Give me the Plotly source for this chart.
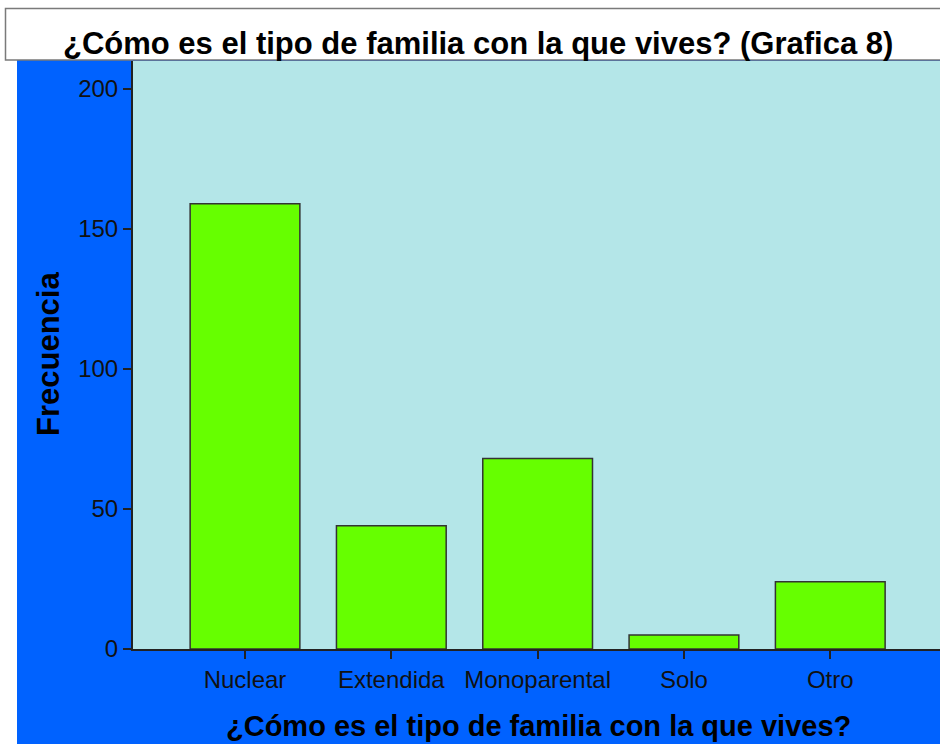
import plotly.graph_objects as go

# Datos
tipos_familia = ["Nuclear", "Extendida", "Monoparental", "Solo", "Otro"]
frecuencias = [159, 44, 68, 5, 24]
y_ticks = [0, 50, 100, 150, 200]

_AZUL = "#0062FF"
_FONDO = "#B4E6E8"
_BARRA = "#66FF00"
_FUENTE = "Liberation Sans, Arial, sans-serif"

W, H = 940, 744
L, R, T, B = 133, 0, 61, 95
pw, ph = W - L - R, H - T - B


def px_x(sx):
    return (sx - L) / pw


def px_y(sy):
    return (H - B - sy) / ph


fig = go.Figure(
    go.Bar(
        x=tipos_familia,
        y=frecuencias,
        marker=dict(color=_BARRA, line=dict(color="#333333", width=1.5)),
        hovertemplate="%{x}<br>%{y}<extra></extra>",
    )
)

fig.update_layout(
    width=W,
    height=H,
    margin=dict(l=L, r=R, t=T, b=B),
    paper_bgcolor=_AZUL,
    plot_bgcolor=_FONDO,
    bargap=0.25,
    showlegend=False,
    font=dict(family=_FUENTE, color="#111111"),
    shapes=[
        # franja blanca a la izquierda y arriba
        dict(type="rect", xref="paper", yref="paper", layer="below",
             x0=px_x(0), x1=px_x(17), y0=px_y(H), y1=px_y(0),
             fillcolor="white", line=dict(width=0)),
        dict(type="rect", xref="paper", yref="paper", layer="below",
             x0=px_x(0), x1=px_x(W), y0=px_y(60), y1=px_y(0),
             fillcolor="white", line=dict(width=0)),
        # recuadro del título
        dict(type="rect", xref="paper", yref="paper", layer="below",
             x0=px_x(5.5), x1=px_x(W + 20), y0=px_y(60), y1=px_y(8.5),
             fillcolor="white", line=dict(color="#7a7a7a", width=1.5)),
    ],
    annotations=[
        dict(text="<b>¿Cómo es el tipo de familia con la que vives? (Grafica 8)</b>",
             xref="paper", yref="paper", x=px_x(478), y=px_y(43),
             xanchor="center", yanchor="middle", showarrow=False,
             font=dict(size=31, color="black")),
        dict(text="<b>Frecuencia</b>",
             xref="paper", yref="paper", x=px_x(48), y=px_y(354),
             xanchor="center", yanchor="middle", showarrow=False, textangle=-90,
             font=dict(size=31, color="black")),
        dict(text="<b>¿Cómo es el tipo de familia con la que vives?</b>",
             xref="paper", yref="paper", x=px_x(538), y=px_y(726),
             xanchor="center", yanchor="middle", showarrow=False,
             font=dict(size=29, color="black")),
    ],
)

fig.update_xaxes(
    range=[-0.7655, 4.75],
    showgrid=False,
    showline=True,
    linecolor="#222222",
    linewidth=2,
    ticks="outside",
    ticklen=8,
    tickwidth=2,
    tickcolor="#222222",
    tickfont=dict(size=24, color="#111111"),
    fixedrange=True,
)
fig.update_yaxes(
    range=[0, 210],
    tickvals=y_ticks,
    showgrid=False,
    zeroline=False,
    showline=True,
    linecolor="#222222",
    linewidth=2,
    ticks="outside",
    ticklen=8,
    tickwidth=2,
    tickcolor="#222222",
    tickfont=dict(size=24, color="#111111"),
    fixedrange=True,
)

# sin el margen por defecto del body, la figura ocupa toda la ventana
fig.write_html(
    "out.html",
    config={"displayModeBar": False},
    post_script="document.body.style.margin = '0';",
)
